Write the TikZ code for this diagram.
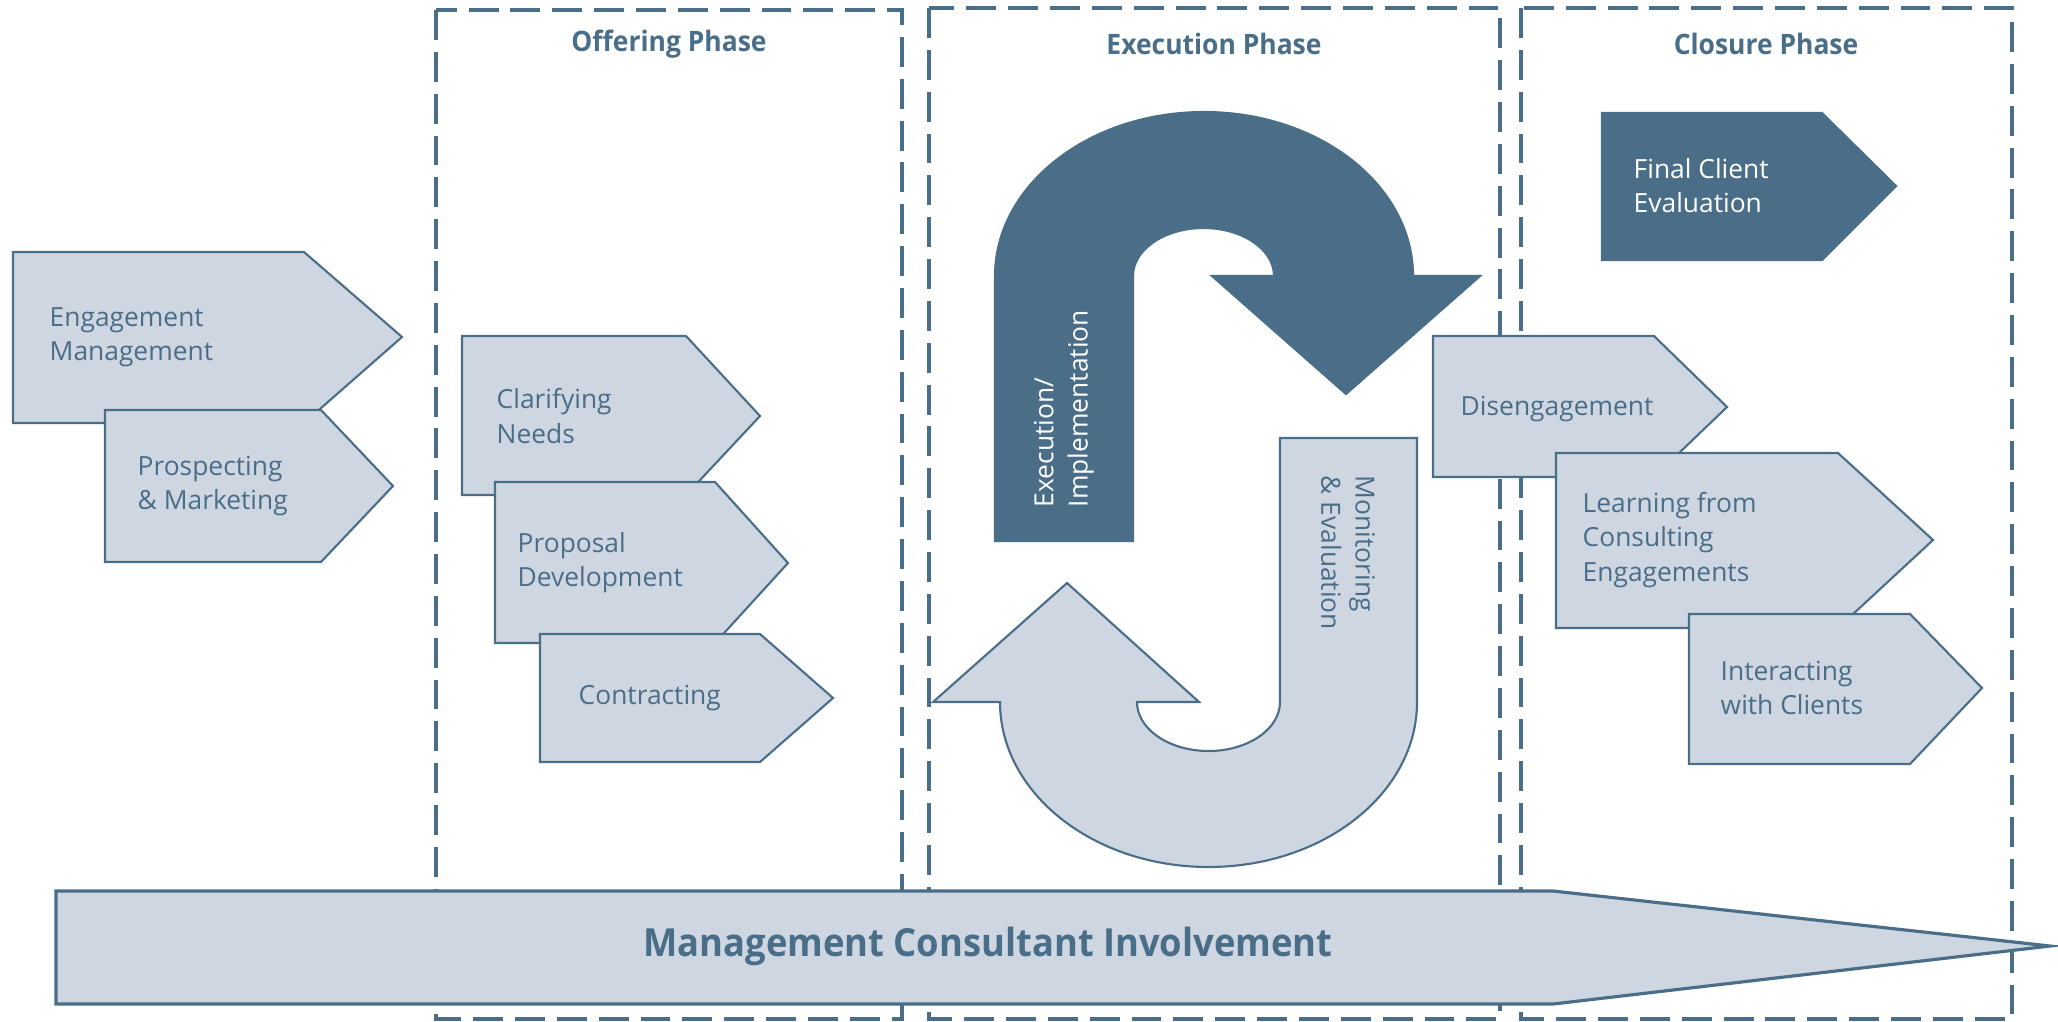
\documentclass[tikz,border=0pt]{standalone}
\usepackage{fontspec}
\setmainfont{Open Sans}
\newfontfamily\headfont[FakeStretch=0.94]{Open Sans}
\usepackage{tikz}
\usetikzlibrary{positioning}
\definecolor{slate}{HTML}{4A6D88}
\definecolor{mist}{HTML}{CED7E1}

\begin{document}
\begin{tikzpicture}[x=0.01cm, y=0.01cm,
			lightbox/.style={fill=mist, draw=slate, line width=0.6pt},
			darkbox/.style={fill=slate, draw=slate, line width=0.6pt},
			boxtext/.style={anchor=west, align=left, inner sep=0pt, text=slate, font=\fontsize{7.5}{9.7}\selectfont},
			darktext/.style={boxtext, text=white},
			phasebox/.style={draw=slate, line width=1pt, dash pattern=on 8.5pt off 3.4pt},
			phasetitle/.style={inner sep=0pt, text=slate, font=\headfont\bfseries\fontsize{8}{10}\selectfont},
		]
		\useasboundingbox (0,0) rectangle (2058,-1021);

			%Phases
			\draw[phasebox]	(436,-10) rectangle (902,-1019);
			\draw[phasebox]	(929,-8) rectangle (1500,-1019);
			\draw[phasebox]	(1521,-8) rectangle (2012,-1019);
			\node[phasetitle]	(offer)		at (669,-44)	{Offering Phase};
			\node[phasetitle]	(exec)		at (1214,-44)	{Execution Phase};
			\node[phasetitle]	(close)		at (1766,-44)	{Closure Phase};

			%Before the offering
			\draw[lightbox]	(13,-252) -- (304,-252) -- (402,-337) -- (304,-423) -- (13,-423) -- cycle;
			\node[boxtext]	(engage)	at (49,-337)	{Engagement\\Management};
			\draw[lightbox]	(105,-410) -- (321,-410) -- (393,-486) -- (321,-562) -- (105,-562) -- cycle;
			\node[boxtext]	(prospect)	at (137,-486)	{Prospecting\\\& Marketing};

			%Offering
			\draw[lightbox]	(462,-336) -- (686,-336) -- (760,-416) -- (686,-495) -- (462,-495) -- cycle;
			\node[boxtext]	(clarify)	at (496,-416)	{Clarifying\\Needs};
			\draw[lightbox]	(495,-482) -- (715,-482) -- (788,-563) -- (715,-643) -- (495,-643) -- cycle;
			\node[boxtext]	(proposal)	at (517,-563)	{Proposal\\Development};
			\draw[lightbox]	(540,-634) -- (760,-634) -- (833,-698) -- (760,-762) -- (540,-762) -- cycle;
			\node[boxtext]	(contract)	at (578,-698)	{Contracting};

			%Execution
			\draw[darkbox]	(995,-541) -- (995,-276) arc[start angle=180, end angle=0, x radius=209, y radius=164]
				-- (1480,-276) -- (1346,-394) -- (1212,-276) -- (1274,-276)
				arc[start angle=0, end angle=180, x radius=70.5, y radius=48] -- (1133,-541) -- cycle;
			\node[darktext, rotate=90]	(implement)	at (1064,-508)	{Execution/\\Implementation};
			\draw[lightbox]	(1280,-438) -- (1417,-438) -- (1417,-702) arc[start angle=0, end angle=-180, x radius=208.5, y radius=165]
				-- (933,-702) -- (1067,-583) -- (1199,-702) -- (1137,-702)
				arc[start angle=180, end angle=360, x radius=71.5, y radius=49] -- cycle;
			\node[boxtext, rotate=-90]	(monitor)	at (1348,-475)	{Monitoring\\\& Evaluation};

			%Closure
			\draw[darkbox]	(1602,-113) -- (1822,-113) -- (1896,-186) -- (1822,-260) -- (1602,-260) -- cycle;
			\node[darktext]	(final)		at (1633,-186)	{Final Client\\Evaluation};
			\draw[lightbox]	(1433,-336) -- (1654,-336) -- (1727,-407) -- (1654,-477) -- (1433,-477) -- cycle;
			\node[boxtext]	(disengage)	at (1460,-409)	{Disengagement};
			\draw[lightbox]	(1556,-453) -- (1838,-453) -- (1933,-540) -- (1838,-628) -- (1556,-628) -- cycle;
			\node[boxtext]	(learn)		at (1582,-540)	{Learning from\\Consulting\\Engagements};
			\draw[lightbox]	(1689,-614) -- (1910,-614) -- (1982,-688) -- (1910,-764) -- (1689,-764) -- cycle;
			\node[boxtext]	(interact)	at (1720,-688)	{Interacting\\with Clients};

			%Involvement
			\draw[lightbox, line width=0.9pt]	(56,-891) -- (1553,-891) -- (2050,-946) -- (1553,-1004) -- (56,-1004) -- cycle;
			\node[phasetitle, font=\headfont\bfseries\fontsize{11}{13}\selectfont]	(involve)	at (988,-946)	{Management Consultant Involvement};

		\end{tikzpicture}
\end{document}
